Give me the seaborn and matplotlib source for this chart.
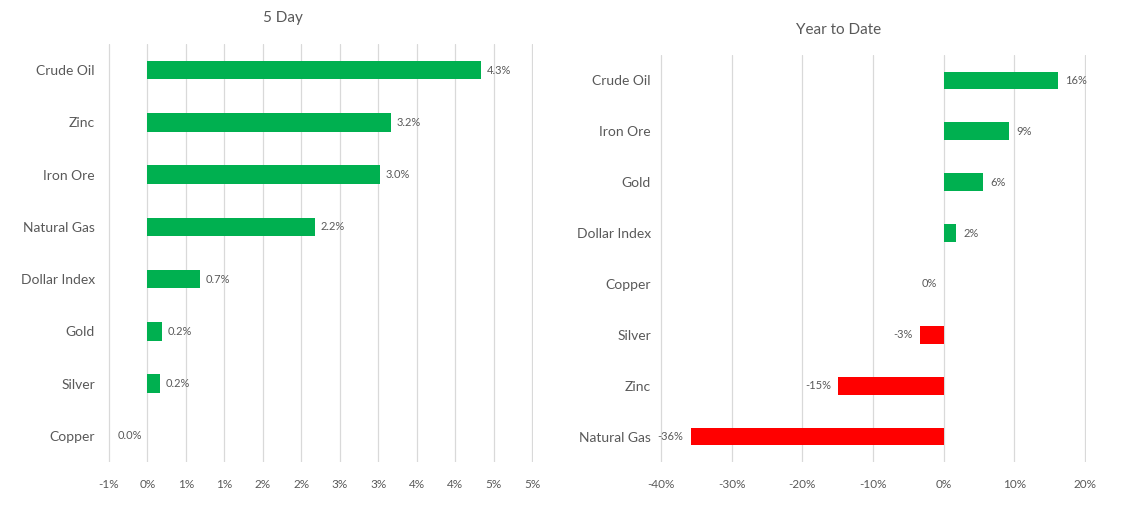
import numpy as np
import pandas as pd
import matplotlib
matplotlib.use("Agg")
import matplotlib.pyplot as plt
import seaborn as sns

# 5 day change (%)
five_day_cats = ['Crude Oil', 'Zinc', 'Iron Ore', 'Natural Gas', 'Dollar Index', 'Gold', 'Silver', 'Copper']
five_day_vals = [4.34, 3.17, 3.02, 2.18, 0.68, 0.19, 0.17, 0.0]
five_day_ticks = [-0.5, 0.0, 0.5, 1.0, 1.5, 2.0, 2.5, 3.0, 3.5, 4.0, 4.5, 5.0]
five_day_ticklabels = ['-1%', '0%', '1%', '1%', '2%', '2%', '3%', '3%', '4%', '4%', '5%', '5%']

# year to date change (%)
ytd_cats = ['Crude Oil', 'Iron Ore', 'Gold', 'Dollar Index', 'Copper', 'Silver', 'Zinc', 'Natural Gas']
ytd_vals = [16.2, 9.3, 5.6, 1.8, 0.0, -3.4, -14.9, -35.8]
ytd_ticks = [-40, -30, -20, -10, 0, 10, 20]
ytd_ticklabels = ['-40%', '-30%', '-20%', '-10%', '0%', '10%', '20%']

GREEN = '#00B050'
RED = '#FF0000'
TEXT = '#595959'
GRID = '#D9D9D9'

sns.set_style('white')
plt.rcParams['font.family'] = ['Lato', 'DejaVu Sans']
plt.rcParams['text.color'] = TEXT

fig = plt.figure(figsize=(11.23, 5.05), dpi=100)
ax1 = fig.add_axes([108 / 1123, 43 / 505, 425 / 1123, 418 / 505])
ax2 = fig.add_axes([660 / 1123, 43 / 505, 426 / 1123, 407 / 505])


def draw(ax, cats, vals, ticks, ticklabels, fmt, pad_y, lab_off):
    df = pd.DataFrame({'cat': cats, 'val': vals})
    colors = [GREEN if v >= 0 else RED for v in vals]
    sns.barplot(data=df, x='val', y='cat', hue='cat', palette=colors,
                legend=False, width=0.35, orient='h', ax=ax, saturation=1, linewidth=0)
    span = ticks[-1] - ticks[0]
    ax.set_xlim(ticks[0] - span * 0.002, ticks[-1] + span * 0.002)
    ax.set_xticks(ticks)
    ax.set_xticklabels(ticklabels)
    ax.set_xlabel('')
    ax.set_ylabel('')
    for s in ax.spines.values():
        s.set_visible(False)
    ax.grid(axis='x', color=GRID, linewidth=0.9)
    ax.grid(axis='y', visible=False)
    ax.set_axisbelow(True)
    ax.tick_params(axis='x', length=0, pad=12, labelsize=8.5, colors=TEXT)
    ax.tick_params(axis='y', length=0, pad=pad_y, labelsize=10, colors=TEXT)
    for i, v in enumerate(vals):
        if v > 0:
            ax.annotate(fmt.format(v), (v, i), xytext=(lab_off, 0), textcoords='offset points',
                        ha='left', va='center', fontsize=8, color=TEXT)
        else:
            ax.annotate(fmt.format(v), (v, i), xytext=(-lab_off, 0), textcoords='offset points',
                        ha='right', va='center', fontsize=8, color=TEXT)


draw(ax1, five_day_cats, five_day_vals, five_day_ticks, five_day_ticklabels, '{:.1f}%', 9.5, 4)
draw(ax2, ytd_cats, ytd_vals, ytd_ticks, ytd_ticklabels, '{:.0f}%', 6.5, 5)

fig.text(283 / 1123, 1 - 18 / 505, '5 Day', ha='center', va='center', fontsize=11, color=TEXT)
fig.text(839 / 1123, 1 - 30 / 505, 'Year to Date', ha='center', va='center', fontsize=11, color=TEXT)

fig.savefig('out.png', dpi=100, facecolor='white')
